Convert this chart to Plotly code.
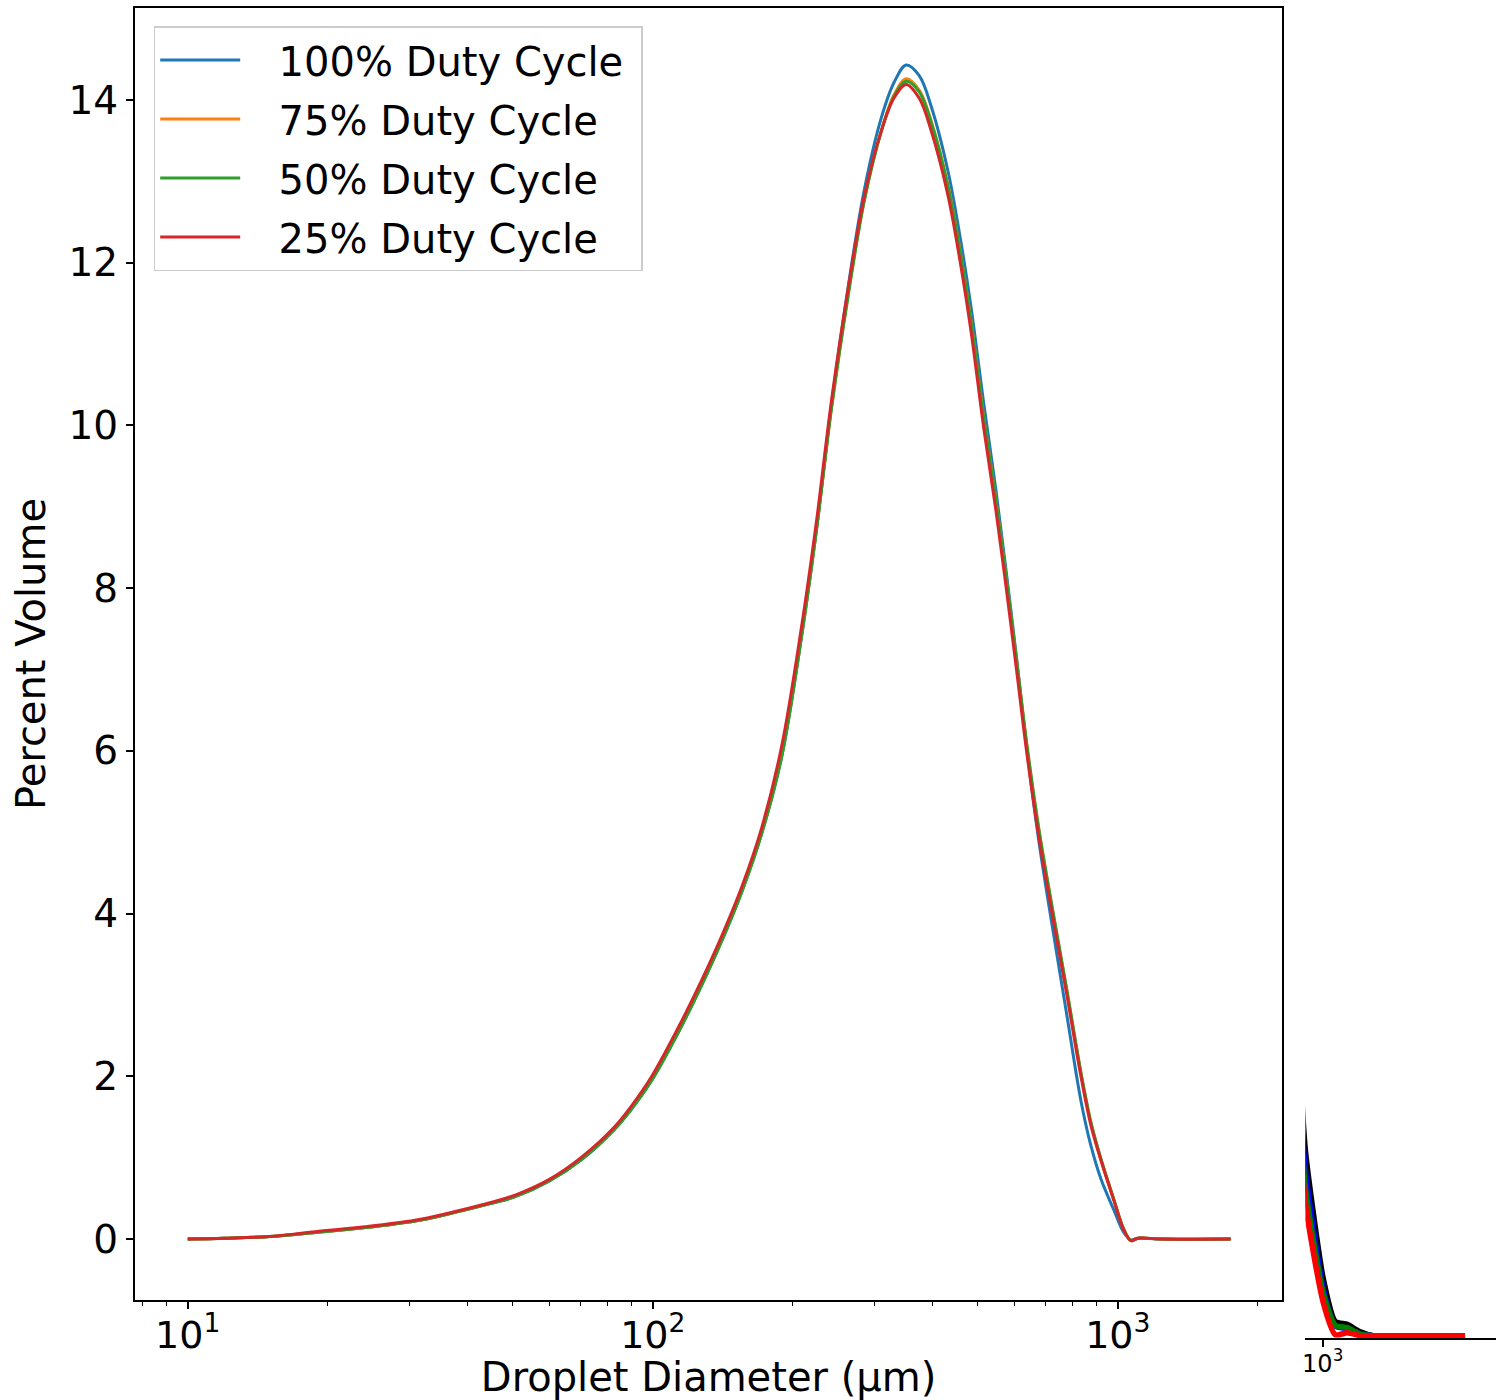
import plotly.graph_objects as go

# ---------------- data ----------------
diameter_um = [10.0, 12.0, 15.0, 18.8, 24.1, 30.8, 36.5, 43.0, 50.6, 59.8,
               70.4, 82.8, 90.1, 99.5, 115.4, 127.4, 140.6, 155.2, 171.4, 189.2,
               208.8, 224.9, 242.2, 263.4, 285.1, 310.0, 330.6, 350.8, 374.1, 397.0,
               431.5, 460.0, 483.6, 515.4, 547.0, 577.0, 607.0, 638.0, 676.0, 725.0,
               777.0, 833.0, 875.0, 919.5, 980.0, 1030.0, 1067.0, 1105.0, 1237.0, 1748.0]

duty_100 = [0.00, 0.01, 0.03, 0.08, 0.14, 0.22, 0.31, 0.41, 0.52, 0.71,
            0.98, 1.35, 1.60, 1.95, 2.62, 3.12, 3.66, 4.26, 4.98, 5.92,
            7.40, 8.72, 10.25, 11.72, 12.90, 13.78, 14.22, 14.43, 14.30, 13.92,
            13.12, 12.25, 11.45, 10.25, 9.20, 8.15, 7.10, 6.00, 4.90, 3.80,
            2.75, 1.70, 1.15, 0.74, 0.36, 0.08, -0.01, 0.01, 0.00, 0.00]

duty_75 = [0.00, 0.01, 0.03, 0.08, 0.14, 0.22, 0.31, 0.41, 0.53, 0.72,
           0.99, 1.36, 1.61, 1.96, 2.63, 3.13, 3.67, 4.27, 4.99, 5.94,
           7.42, 8.73, 10.22, 11.63, 12.78, 13.62, 14.07, 14.26, 14.12, 13.74,
           12.95, 12.08, 11.28, 10.08, 9.08, 8.07, 7.06, 6.05, 5.04, 4.02,
           3.05, 2.04, 1.43, 0.98, 0.49, 0.12, -0.02, 0.01, 0.00, 0.00]

duty_50 = [0.00, 0.01, 0.03, 0.08, 0.14, 0.22, 0.31, 0.41, 0.52, 0.71,
           0.98, 1.35, 1.60, 1.95, 2.62, 3.12, 3.66, 4.26, 4.98, 5.92,
           7.40, 8.71, 10.20, 11.61, 12.76, 13.61, 14.05, 14.23, 14.10, 13.72,
           12.93, 12.07, 11.27, 10.07, 9.07, 8.07, 7.07, 6.06, 5.05, 4.03,
           3.06, 2.05, 1.44, 0.99, 0.49, 0.12, -0.02, 0.01, 0.00, 0.00]

duty_25 = [0.00, 0.01, 0.03, 0.09, 0.15, 0.23, 0.32, 0.42, 0.54, 0.73,
           1.01, 1.38, 1.64, 2.00, 2.68, 3.18, 3.72, 4.32, 5.05, 6.05,
           7.52, 8.82, 10.30, 11.70, 12.82, 13.62, 14.03, 14.19, 14.02, 13.62,
           12.82, 11.95, 11.15, 9.95, 8.95, 7.95, 6.95, 5.95, 4.95, 3.95,
           3.00, 2.00, 1.40, 0.97, 0.48, 0.11, -0.02, 0.01, 0.00, 0.00]

series_names = ["100% Duty Cycle", "75% Duty Cycle", "50% Duty Cycle", "25% Duty Cycle"]
series_colors = ["#1f77b4", "#ff7f0e", "#2ca02c", "#d62728"]

x_tick_vals = [10, 100, 1000]
x_tick_text = ["10<sup>1</sup>", "10<sup>2</sup>", "10<sup>3</sup>"]
x_minor_vals = [8, 9, 20, 30, 40, 50, 60, 70, 80, 90,
                200, 300, 400, 500, 600, 700, 800, 900, 2000]
y_tick_vals = [0, 2, 4, 6, 8, 10, 12, 14]

# fragment of a second chart visible in the lower-right corner
frag_x = [789, 832, 1006, 1143, 1299, 1490, 1710, 4540]
frag_black = [5.6, 3.93, 1.21, 0.30, 0.24, 0.08, 0.0, 0.0]
frag_green = [5.0, 3.50, 1.00, 0.20, 0.15, 0.04, 0.0, 0.0]
frag_blue = [4.6, 3.14, 0.90, 0.22, 0.17, 0.03, 0.0, 0.0]
frag_red = [4.3, 2.80, 0.70, 0.02, 0.06, 0.00, 0.0, 0.0]
frag_colors = ["black", "#0000ff", "#008000", "#ff0000"]

# ---------------- figure ----------------
W, H = 1496, 1400
FONT = "DejaVu Sans"
LEAD = "\u00a0\u00a0\u2009"   # gap between legend line and label
TRAIL = "\u00a0"              # right padding inside legend box

fig = go.Figure()
for name, col, ys in zip(series_names, series_colors,
                         [duty_100, duty_75, duty_50, duty_25]):
    fig.add_trace(go.Scatter(
        x=diameter_um, y=ys, mode="lines", name=LEAD + name + TRAIL,
        line=dict(color=col, width=3, shape="spline", smoothing=1.0),
        legendgroup=name,
    ))

for col, ys in zip(frag_colors, [frag_black, frag_green, frag_blue, frag_red]):
    fig.add_trace(go.Scatter(
        x=frag_x, y=ys, mode="lines", showlegend=False,
        line=dict(color=col, width=5.5, shape="spline", smoothing=0.6),
        xaxis="x2", yaxis="y2", hoverinfo="skip",
    ))

main_x_dom = [132 / W, 1282 / W]
main_y_dom = [1 - 1300 / H, 1 - 8 / H]

fig.update_layout(
    width=W, height=H,
    margin=dict(l=0, r=0, t=0, b=0),
    paper_bgcolor="white", plot_bgcolor="white",
    font=dict(family=FONT, color="black"),
    showlegend=True,
    legend=dict(
        x=151 / W, y=1 - 26 / H, xanchor="left", yanchor="top",
        bgcolor="rgba(255,255,255,0.85)", bordercolor="#cccccc", borderwidth=1.5,
        font=dict(size=40, family=FONT, color="black"),
        itemwidth=80, tracegroupgap=4,
    ),
    xaxis=dict(
        type="log", domain=main_x_dom, anchor="y",
        range=[0.886, 3.354],
        tickvals=x_tick_vals, ticktext=x_tick_text,
        ticks="outside", ticklen=7, tickwidth=1.6, tickcolor="black",
        ticklabelstandoff=-6,
        tickfont=dict(size=38, family=FONT, color="black"),
        minor=dict(tickvals=x_minor_vals, ticks="outside", ticklen=4,
                   tickwidth=1.2, tickcolor="black", showgrid=False),
        showgrid=False, zeroline=False,
        showline=True, linecolor="black", linewidth=1.6, mirror=True,
        title=dict(text="Droplet Diameter (µm)", standoff=14,
                   font=dict(size=40, family=FONT, color="black")),
    ),
    yaxis=dict(
        domain=main_y_dom, anchor="x",
        range=[-0.75, 15.13],
        tickvals=y_tick_vals,
        ticks="outside", ticklen=7, tickwidth=1.6, tickcolor="black",
        tickfont=dict(size=39, family=FONT, color="black"),
        showgrid=False, zeroline=False,
        showline=True, linecolor="black", linewidth=1.6, mirror=True,
        title=dict(text="Percent Volume", standoff=10,
                   font=dict(size=40, family=FONT, color="black")),
    ),
    xaxis2=dict(
        type="log", domain=[1305 / W, 1.0], anchor="y2",
        range=[2.92, 3.8],
        tickvals=[1000], ticktext=["10<sup>3</sup>"],
        ticks="outside", ticklen=7, tickwidth=1.5, tickcolor="black",
        ticklabelstandoff=-4,
        tickfont=dict(size=24, family=FONT, color="black"),
        showgrid=False, zeroline=False,
        showline=True, linecolor="black", linewidth=1.5,
    ),
    yaxis2=dict(
        domain=[1 - 1338 / H, 1 - 1100 / H], anchor="x2",
        range=[-0.05, 5.0],
        showticklabels=False, ticks="", showgrid=False, zeroline=False,
        showline=False,
    ),
)

fig.write_html("out.html")
